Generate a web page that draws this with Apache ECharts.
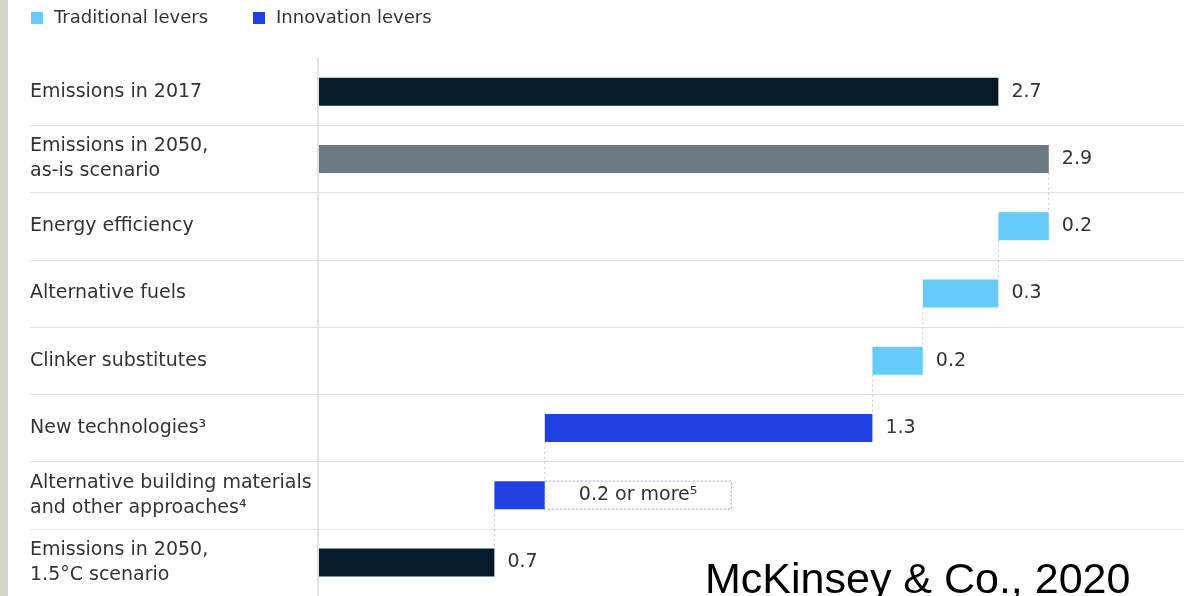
<!DOCTYPE html>
<html>
<head>
<meta charset="utf-8">
<title>Cement emissions levers</title>
<script src="https://cdn.jsdelivr.net/npm/echarts@6/dist/echarts.min.js"></script>
<style>
  html, body { margin: 0; padding: 0; background: #ffffff; }
  #strip { position: absolute; left: 0; top: 0; width: 8px; height: 596px; background: #d6d6c9; z-index: 2; }
  #chart { position: absolute; left: 0; top: 0; width: 1184px; height: 596px; }
</style>
</head>
<body>
<div id="chart"></div>
<div id="strip"></div>
<script>
// Gt CO2 per year, read row by row from top to bottom
const categories = [
  'Emissions in 2017',
  'Emissions in 2050,\nas-is scenario',
  'Energy efficiency',
  'Alternative fuels',
  'Clinker substitutes',
  'New technologies³',
  'Alternative building materials\nand other approaches⁴',
  'Emissions in 2050,\n1.5°C scenario'
];
const values = [2.7, 2.9, 0.2, 0.3, 0.2, 1.3, 0.2, 0.7];
// 'total' rows start at zero, lever rows step down from the running total
const kinds = ['total', 'total', 'traditional', 'traditional', 'traditional', 'innovation', 'innovation', 'total'];
const valueLabels = ['2.7', '2.9', '0.2', '0.3', '0.2', '1.3', '0.2 or more⁵', '0.7'];

const COLORS = {
  total: ['#061c2c', '#6b7982', null, null, null, null, null, '#061c2c'],
  traditional: '#67cbf9',
  innovation: '#2140e2'
};

// Waterfall offsets
const bases = [];
let running = 0;
values.forEach((v, i) => {
  if (kinds[i] === 'total') { bases.push(0); running = v; }
  else { running = running - v; bases.push(running); }
});

// Dotted connectors: from the bottom of row i to the top of row i+1,
// at the right end of the next bar (skipped between the two first totals)
const connectors = [];
for (let i = 1; i < values.length - 1; i++) {
  connectors.push([bases[i + 1] + values[i + 1], i]);
}

const PX_PER_UNIT = 252;   // horizontal scale
const ZERO_X = 318;        // position of the zero line
const GRID_LEFT = 30;
const WIDTH = 1184;
const xMin = -(ZERO_X - GRID_LEFT) / PX_PER_UNIT;
const xMax = (WIDTH - ZERO_X) / PX_PER_UNIT;

const FONT = '"DejaVu Sans", sans-serif';
const BAR_W = 28;

const valueLabel = {
  show: true,
  position: 'right',
  distance: 13,
  color: '#333333',
  fontFamily: FONT,
  fontSize: 19,
  formatter: p => valueLabels[p.dataIndex]
};

function pick(kind) {
  return values.map((v, i) => kinds[i] === kind ? v : '-');
}

const totalData = values.map((v, i) => kinds[i] === 'total'
  ? { value: v, itemStyle: { color: COLORS.total[i] } } : '-');

const innovationData = values.map((v, i) => {
  if (kinds[i] !== 'innovation') return '-';
  if (valueLabels[i].indexOf('or more') >= 0) {
    return {
      value: v,
      label: {
        show: true,
        position: 'right',
        distance: 0,
        color: '#333333',
        fontFamily: FONT,
        fontSize: 19,
        lineHeight: 18,
        padding: [5, 34, 5, 34],
        borderColor: '#8c9df0',
        borderWidth: 1,
        borderType: [2, 2],
        formatter: valueLabels[i]
      }
    };
  }
  return v;
});

const chart = echarts.init(document.getElementById('chart'), null, { renderer: 'canvas' });

chart.setOption({
  backgroundColor: '#ffffff',
  animation: false,
  legend: {
    left: 31,
    top: 9,
    padding: 0,
    itemWidth: 12,
    itemHeight: 12,
    itemGap: 45,
    icon: 'rect',
    selectedMode: false,
    data: ['Traditional levers', 'Innovation levers'],
    textStyle: { fontFamily: FONT, fontSize: 18, color: '#333333', padding: [0, 0, 0, 6] }
  },
  grid: { left: GRID_LEFT, right: 0, top: 58, bottom: -4 },
  xAxis: {
    type: 'value',
    min: xMin,
    max: xMax,
    show: false
  },
  yAxis: {
    type: 'category',
    inverse: true,
    data: categories,
    axisLine: { show: false },
    axisTick: { show: false },
    axisLabel: {
      inside: true,
      margin: 0,
      color: '#333333',
      fontFamily: FONT,
      fontSize: 19,
      lineHeight: 25
    },
    splitLine: {
      show: true,
      showMinLine: false,
      lineStyle: { color: '#e1e1e1', width: 1 }
    }
  },
  series: [
    {
      name: 'base',
      type: 'bar',
      stack: 'w',
      barWidth: BAR_W,
      itemStyle: { color: 'transparent' },
      emphasis: { disabled: true },
      data: bases,
      markLine: {
        silent: true,
        symbol: 'none',
        label: { show: false },
        lineStyle: { color: '#e2e2e2', width: 2, type: 'solid' },
        data: [{ xAxis: 0 }]
      }
    },
    {
      name: 'Totals',
      type: 'bar',
      stack: 'w',
      barWidth: BAR_W,
      label: valueLabel,
      data: totalData
    },
    {
      name: 'Traditional levers',
      type: 'bar',
      stack: 'w',
      barWidth: BAR_W,
      itemStyle: { color: COLORS.traditional },
      label: valueLabel,
      data: pick('traditional')
    },
    {
      name: 'Innovation levers',
      type: 'bar',
      stack: 'w',
      barWidth: BAR_W,
      itemStyle: { color: COLORS.innovation },
      label: valueLabel,
      data: innovationData
    },
    {
      name: 'connectors',
      type: 'custom',
      silent: true,
      z: 1,
      encode: { x: 0, y: 1 },
      data: connectors,
      renderItem: function (params, api) {
        const x = api.value(0);
        const i = api.value(1);
        const p1 = api.coord([x, i]);
        const p2 = api.coord([x, i + 1]);
        return {
          type: 'line',
          shape: { x1: p1[0], y1: p1[1] + BAR_W / 2, x2: p2[0], y2: p2[1] - BAR_W / 2 },
          style: { stroke: '#c4c4c4', lineWidth: 1, lineDash: [2, 3] }
        };
      }
    }
  ],
  graphic: [
    {
      type: 'text',
      left: 705,
      top: 560,
      z: 10,
      style: {
        text: 'McKinsey & Co., 2020',
        fill: '#000000',
        fontFamily: '"Liberation Sans", Arial, sans-serif',
        fontSize: 43
      }
    }
  ]
});
</script>
</body>
</html>
